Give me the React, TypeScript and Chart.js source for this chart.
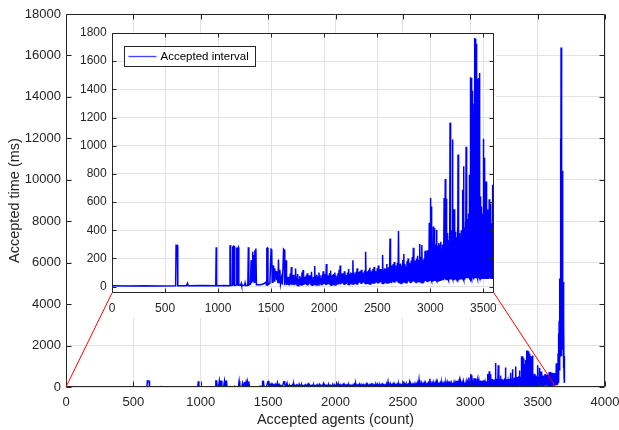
import React, { useEffect, useRef } from 'react';
import { Chart, registerables } from 'chart.js';

Chart.register(...registerables);

// ---------- text & style constants ----------
const FONT_FAMILY = '"Liberation Sans", Arial, Helvetica, sans-serif';
const AXIS_COLOR = '#262626';
const GRID_COLOR = '#e2e2e2';
const LINE_COLOR = '#0000ff';
const LINK_COLOR = '#ff0000';

const seriesLabel = 'Accepted interval';
const xTitle = 'Accepted agents (count)';
const yTitle = 'Accepted time (ms)';

// ---------- axes ----------
const mainXRange = [0, 4000];
const mainYRange = [0, 18000];
const mainXTicks = [0, 500, 1000, 1500, 2000, 2500, 3000, 3500, 4000];
const mainYTicks = [0, 2000, 4000, 6000, 8000, 10000, 12000, 14000, 16000, 18000];

const insetXRange = [0, 3600];
const insetYRange = [-45, 1800];
const insetXTicks = [0, 500, 1000, 1500, 2000, 2500, 3000, 3500];
const insetYTicks = [0, 200, 400, 600, 800, 1000, 1200, 1400, 1600, 1800];

// agent counts on the main x-axis where the red zoom lines land
const zoomSpan = [0, 3635];

// ---------- data: [accepted agents, accepted time (ms)] ----------
const quietPhase: [number, number][] = [
  [0, 6], [150, 5], [300, 7], [450, 5], [600, 6], [604, 292], [610, 290], [616, 292], [620, 6],
  [700, 7], [712, 24], [718, 6], [850, 8], [978, 6], [982, 280], [986, 7], [1060, 8],
  [1108, 6], [1112, 288], [1118, 290], [1122, 8], [1132, 10], [1138, 286], [1143, 15],
  [1148, 286], [1153, 284], [1157, 10], [1170, 12], [1176, 278], [1181, 12], [1186, 270],
  [1191, 278], [1195, 10], [1214, 12], [1218, 22], [1222, 8], [1250, 12], [1254, 26],
  [1258, 9], [1280, 10], [1285, 280], [1290, 12], [1305, 18], [1311, 188], [1316, 24],
  [1321, 130], [1326, 247], [1331, 40], [1336, 224], [1341, 32], [1346, 259], [1351, 60],
  [1356, 270], [1361, 14], [1400, 14], [1430, 20], [1450, 32], [1455, 12], [1459, 272],
  [1465, 275], [1470, 14], [1488, 24], [1499, 266], [1505, 264], [1510, 32], [1516, 80],
  [1522, 152], [1528, 40], [1534, 130], [1540, 55], [1546, 110], [1552, 45], [1558, 95],
  [1564, 25], [1569, 193], [1574, 30], [1582, 120], [1588, 20], [1598, 65], [1606, 15],
  [1617, 266], [1622, 262], [1627, 18],
];

const risingPhase: [number, number][] = [
  [1630, 10], [1640, 188], [1645, 14], [1650, 60], [1655, 12], [1660, 70], [1665, 10], [1670, 55],
  [1675, 8], [1680, 95], [1685, 20], [1690, 140], [1695, 12], [1700, 65], [1705, 15], [1710, 85],
  [1715, 10], [1720, 60], [1725, 18], [1730, 129], [1735, 20], [1740, 70], [1745, 10], [1750, 90],
  [1755, 6], [1760, 55], [1765, 14], [1770, 75], [1775, 18], [1780, 65], [1785, 12], [1790, 100],
  [1795, 20], [1800, 118], [1805, 12], [1810, 70], [1815, 15], [1820, 65], [1825, 20], [1830, 80],
  [1835, 10], [1840, 95], [1845, 8], [1850, 60], [1855, 14], [1860, 80], [1865, 25], [1870, 70],
  [1875, 12], [1880, 105], [1885, 10], [1890, 65], [1895, 16], [1900, 70], [1905, 18], [1910, 147],
  [1915, 15], [1920, 75], [1925, 12], [1930, 85], [1935, 20], [1940, 70], [1945, 12], [1950, 100],
  [1955, 22], [1960, 80], [1965, 15], [1970, 60], [1975, 9], [1980, 85], [1985, 14], [1990, 110],
  [1995, 18], [2000, 75], [2005, 20], [2010, 90], [2015, 12], [2020, 160], [2025, 14], [2030, 80],
  [2035, 18], [2040, 75], [2045, 20], [2050, 95], [2055, 15], [2060, 115], [2065, 10], [2070, 80],
  [2075, 16], [2080, 85], [2085, 25], [2090, 90], [2095, 14], [2100, 100], [2105, 12], [2110, 80],
  [2115, 18], [2120, 70], [2125, 22], [2130, 95], [2135, 15], [2140, 120], [2145, 20], [2150, 150],
  [2155, 16], [2160, 85], [2165, 22], [2170, 95], [2175, 24], [2180, 90], [2185, 14], [2190, 110],
  [2195, 12], [2200, 85], [2205, 20], [2210, 80], [2215, 28], [2220, 100], [2225, 16], [2230, 125],
  [2235, 15], [2240, 90], [2245, 22], [2250, 100], [2255, 30], [2260, 95], [2265, 18], [2270, 188],
  [2275, 18], [2280, 100], [2285, 24], [2290, 90], [2295, 26], [2300, 105], [2305, 14], [2310, 130],
  [2315, 14], [2320, 95], [2325, 26], [2330, 105], [2335, 30], [2340, 110], [2345, 20], [2350, 120],
  [2355, 20], [2360, 100], [2365, 28], [2370, 95], [2375, 35], [2380, 115], [2385, 22], [2390, 247],
  [2395, 22], [2400, 105], [2405, 25], [2410, 110], [2415, 28], [2420, 120], [2425, 18], [2430, 135],
  [2435, 18], [2440, 105], [2445, 26], [2450, 115], [2455, 32], [2460, 125], [2465, 20], [2470, 140],
  [2475, 20], [2480, 110], [2485, 28], [2490, 100], [2495, 30], [2500, 130], [2505, 22], [2510, 150],
  [2515, 24], [2520, 120], [2525, 30], [2530, 125], [2535, 35], [2540, 115], [2545, 25], [2550, 224],
  [2555, 22], [2560, 120], [2565, 30], [2570, 130], [2575, 38], [2580, 125], [2585, 28], [2590, 160],
  [2595, 26], [2600, 130],
];

const busyPhase: [number, number][] = [
  [2605, 30], [2610, 140], [2615, 25], [2620, 342], [2625, 30], [2630, 150], [2635, 25], [2640, 140],
  [2645, 35], [2650, 160], [2655, 30], [2660, 175], [2665, 28], [2670, 140], [2675, 35], [2680, 150],
  [2685, 40], [2690, 170], [2695, 30], [2700, 395], [2705, 30], [2710, 160], [2715, 28], [2720, 165],
  [2725, 22], [2730, 150], [2735, 30], [2740, 190], [2745, 35], [2750, 231], [2755, 35], [2760, 160],
  [2765, 30], [2770, 145], [2775, 28], [2780, 180], [2785, 35], [2790, 200], [2795, 40], [2800, 160],
  [2805, 30], [2810, 170], [2815, 25], [2820, 185], [2825, 30], [2830, 210], [2835, 35], [2840, 276],
  [2845, 38], [2850, 180], [2855, 32], [2860, 185], [2865, 30], [2870, 200], [2875, 36], [2880, 220],
  [2885, 42], [2890, 190], [2895, 35], [2900, 302], [2905, 35], [2910, 210], [2915, 30], [2920, 295],
  [2925, 28], [2930, 190], [2935, 34], [2940, 200], [2945, 40], [2950, 254], [2955, 40], [2960, 220],
  [2965, 35], [2970, 259], [2975, 32], [2980, 230], [2985, 36], [2990, 454], [2995, 40], [2998, 250],
  [3001, 45], [3004, 630], [3007, 50], [3009, 569], [3012, 40], [3015, 260], [3018, 40], [3022, 300],
  [3025, 45], [3028, 426], [3031, 40], [3034, 280], [3037, 45], [3040, 414], [3043, 50], [3046, 300],
  [3049, 40], [3052, 280], [3055, 45], [3059, 402], [3062, 38], [3065, 290], [3068, 45], [3072, 250],
  [3075, 40], [3078, 310], [3081, 55], [3085, 290], [3088, 40], [3091, 300], [3094, 45], [3097, 319],
  [3100, 50], [3103, 270], [3106, 45], [3110, 230], [3113, 45], [3116, 300], [3120, 50], [3123, 250],
  [3126, 60], [3130, 629], [3133, 55], [3136, 350], [3138, 70], [3141, 764], [3144, 50], [3147, 380],
  [3150, 50], [3152, 623], [3155, 60], [3158, 360], [3161, 45], [3164, 380], [3167, 55], [3170, 330],
  [3173, 45], [3176, 320], [3179, 50], [3181, 360], [3184, 60], [3186, 1164], [3189, 50], [3191, 380],
  [3194, 55], [3197, 400], [3200, 50], [3203, 360], [3205, 70], [3208, 1045], [3211, 55], [3213, 340],
  [3216, 50], [3219, 380], [3222, 55], [3224, 550], [3227, 45], [3229, 330], [3232, 50], [3234, 390],
  [3237, 55], [3240, 360], [3243, 60], [3246, 350], [3249, 50], [3251, 330], [3254, 55], [3256, 420],
  [3259, 50], [3261, 938], [3264, 45], [3266, 350], [3269, 50], [3271, 380], [3274, 65], [3276, 340],
  [3279, 50], [3281, 270], [3284, 55], [3286, 360], [3289, 50], [3292, 400], [3295, 55], [3297, 380],
  [3300, 60], [3302, 688], [3305, 55], [3307, 400], [3310, 70], [3312, 854], [3315, 55], [3317, 380],
  [3320, 55], [3322, 420], [3325, 65], [3327, 400], [3330, 75], [3332, 460], [3335, 60], [3337, 993],
  [3340, 60], [3342, 440], [3345, 60], [3347, 480], [3350, 70], [3352, 450], [3355, 65], [3358, 520],
  [3361, 65], [3363, 470], [3365, 65], [3366, 795], [3369, 60], [3371, 480], [3374, 60], [3376, 500],
  [3377, 60], [3378, 1486], [3381, 50], [3383, 1200], [3386, 70], [3388, 1480], [3391, 60], [3393, 1390],
  [3396, 80], [3398, 1350], [3401, 60], [3403, 430], [3406, 50], [3408, 1100], [3411, 70], [3413, 1300],
  [3416, 60], [3418, 1764], [3420, 80], [3422, 1760], [3425, 60], [3427, 1500], [3430, 70], [3432, 1724],
  [3435, 60], [3437, 1620], [3440, 75], [3442, 1474], [3445, 60], [3447, 1300], [3450, 80], [3452, 1480],
  [3455, 60], [3457, 1250], [3460, 70], [3462, 1516], [3465, 60], [3467, 520], [3469, 55], [3471, 470],
  [3473, 70], [3476, 640], [3478, 60], [3480, 480], [3482, 60], [3484, 569], [3487, 80], [3489, 460],
  [3491, 60], [3494, 520], [3497, 60], [3499, 480], [3500, 60], [3502, 1050], [3504, 70], [3506, 460],
  [3508, 60], [3510, 480], [3512, 60], [3514, 914], [3516, 60], [3518, 450], [3520, 60], [3522, 500],
  [3524, 65], [3526, 747], [3528, 65], [3530, 440], [3532, 55], [3535, 460], [3537, 60], [3540, 550],
  [3542, 55], [3545, 430], [3547, 55], [3550, 480], [3552, 60], [3555, 621], [3557, 60], [3560, 450],
  [3562, 60], [3565, 500], [3567, 60], [3570, 590], [3572, 60], [3575, 440], [3577, 60], [3580, 450],
  [3583, 60], [3586, 723], [3588, 60], [3591, 480], [3593, 60], [3595, 520], [3597, 60], [3598, 720],
];

const overloadPhase: [number, number][] = [
  [3603, 60], [3607, 690], [3611, 50], [3615, 400], [3619, 70], [3623, 670], [3627, 60],
  [3631, 500], [3635, 80], [3639, 1140], [3643, 90], [3647, 700], [3650, 120], [3652, 1630],
  [3654, 200], [3656, 2580], [3658, 300], [3660, 3200], [3662, 5230], [3664, 800],
  [3666, 3560], [3668, 1500], [3670, 11970], [3672, 2000], [3674, 16380], [3676, 1500],
  [3678, 12000], [3680, 2500], [3682, 10440], [3684, 2000], [3686, 10440], [3688, 1800],
  [3690, 5070], [3692, 900], [3694, 3080], [3696, 500], [3698, 1500], [3700, 200],
];

const acceptedSeries = [...quietPhase, ...risingPhase, ...busyPhase, ...overloadPhase];

// ---------- helpers ----------
type Seg = [number, number, number, number];

const fmt = (v: any) => String(v);

function axisConfig(opts: {
  range: number[];
  ticks: number[];
  size: number;
  fontSize: number;
  padding: number;
  horizontal: boolean;
  title?: string;
  titlePadding?: any;
}) {
  const cfg: any = {
    type: 'linear',
    min: opts.range[0],
    max: opts.range[1],
    afterBuildTicks(axis: any) {
      axis.ticks = opts.ticks.map((value) => ({ value }));
    },
    afterFit(axis: any) {
      if (opts.horizontal) axis.height = opts.size;
      else axis.width = opts.size;
      axis.paddingLeft = 0;
      axis.paddingRight = 0;
      axis.paddingTop = 0;
      axis.paddingBottom = 0;
    },
    ticks: {
      callback: fmt,
      autoSkip: false,
      maxRotation: 0,
      minRotation: 0,
      padding: opts.padding,
      color: AXIS_COLOR,
      font: { family: FONT_FAMILY, size: opts.fontSize },
    },
    grid: { color: GRID_COLOR, lineWidth: 1, drawTicks: false },
    border: { display: false },
  };
  if (opts.title) {
    cfg.title = {
      display: true,
      text: opts.title,
      color: AXIS_COLOR,
      font: { family: FONT_FAMILY, size: 14.5 },
      padding: opts.titlePadding,
    };
  }
  return cfg;
}

function framePlugin(tickLen: number) {
  return {
    id: 'frame',
    afterDraw(chart: any) {
      const { ctx, chartArea: a, scales } = chart;
      const l = Math.round(a.left) + 0.5;
      const r = Math.round(a.right) - 0.5;
      const t = Math.round(a.top) + 0.5;
      const b = Math.round(a.bottom) - 0.5;
      ctx.save();
      ctx.strokeStyle = AXIS_COLOR;
      ctx.lineWidth = 1;
      ctx.beginPath();
      ctx.rect(l, t, r - l, b - t);
      for (const tk of scales.x.ticks) {
        const p = Math.round(scales.x.getPixelForValue(tk.value)) + 0.5;
        ctx.moveTo(p, b);
        ctx.lineTo(p, b - tickLen);
        ctx.moveTo(p, t);
        ctx.lineTo(p, t + tickLen);
      }
      for (const tk of scales.y.ticks) {
        const p = Math.round(scales.y.getPixelForValue(tk.value)) + 0.5;
        ctx.moveTo(l, p);
        ctx.lineTo(l + tickLen, p);
        ctx.moveTo(r, p);
        ctx.lineTo(r - tickLen, p);
      }
      ctx.stroke();
      ctx.restore();
    },
  };
}

const insetBackground = {
  id: 'insetBackground',
  beforeDraw(chart: any) {
    const { ctx, chartArea: a, width, height } = chart;
    ctx.save();
    ctx.fillStyle = '#ffffff';
    ctx.fillRect(0, 0, a.left, height);
    ctx.fillRect(a.left, a.top, width - a.left, height - a.top);
    ctx.restore();
  },
};

const insetLegend = {
  id: 'insetLegend',
  afterDraw(chart: any) {
    const { ctx, chartArea: a } = chart;
    const x = Math.round(a.left + 12) + 0.5;
    const y = Math.round(a.top + 13) + 0.5;
    const w = 131;
    const h = 20;
    ctx.save();
    ctx.fillStyle = '#ffffff';
    ctx.fillRect(x, y, w, h);
    ctx.strokeStyle = AXIS_COLOR;
    ctx.lineWidth = 1;
    ctx.strokeRect(x, y, w, h);
    ctx.strokeStyle = '#4444ff';
    ctx.lineWidth = 1.3;
    ctx.beginPath();
    ctx.moveTo(x + 4, y + h / 2);
    ctx.lineTo(x + 32, y + h / 2);
    ctx.stroke();
    ctx.fillStyle = '#000000';
    ctx.font = `11.5px ${FONT_FAMILY}`;
    ctx.textBaseline = 'middle';
    ctx.textAlign = 'left';
    ctx.fillText(chart.data.datasets[0].label, x + 36, y + h / 2 + 0.5);
    ctx.restore();
  },
};

export default function App() {
  const mainRef = useRef<HTMLCanvasElement | null>(null);
  const insetRef = useRef<HTMLCanvasElement | null>(null);

  useEffect(() => {
    const mainCanvas = mainRef.current!;
    const insetCanvas = insetRef.current!;
    const link: { main?: any; inset?: any } = {};

    const insetOffset = () => {
      const m = mainCanvas.getBoundingClientRect();
      const s = insetCanvas.getBoundingClientRect();
      return [s.left - m.left, s.top - m.top];
    };

    const segments = (): Seg[] => {
      const { main, inset } = link;
      if (!main || !inset) return [];
      const [dx, dy] = insetOffset();
      const mx = main.scales.x;
      const my = main.scales.y;
      const a = inset.chartArea;
      const y0 = my.getPixelForValue(0);
      return [
        [mx.getPixelForValue(zoomSpan[0]), y0, dx + a.left, dy + a.bottom],
        [mx.getPixelForValue(zoomSpan[1]), y0, dx + a.right, dy + a.bottom],
      ];
    };

    const connectors = (inInset: boolean) => ({
      id: 'connectors',
      afterDraw(chart: any) {
        const segs = segments();
        if (!segs.length) return;
        const [dx, dy] = inInset ? insetOffset() : [0, 0];
        const ctx = chart.ctx;
        ctx.save();
        ctx.translate(-dx, -dy);
        ctx.strokeStyle = LINK_COLOR;
        ctx.lineWidth = 1;
        ctx.beginPath();
        for (const [x1, y1, x2, y2] of segs) {
          ctx.moveTo(x1, y1);
          ctx.lineTo(x2, y2);
        }
        ctx.stroke();
        ctx.restore();
      },
    });

    const points = acceptedSeries.map(([x, y]) => ({ x, y }));
    const dataset = () => ({
      label: seriesLabel,
      data: points,
      borderColor: LINE_COLOR,
      backgroundColor: LINE_COLOR,
      borderWidth: 1.5,
      pointRadius: 0,
      tension: 0,
      fill: false,
    });

    const main = new Chart(mainCanvas, {
      type: 'line',
      data: { datasets: [dataset()] },
      options: {
        animation: false,
        responsive: false,
        events: [],
        layout: { padding: { left: 0, top: 14, right: 14, bottom: 0 } },
        plugins: { legend: { display: false }, tooltip: { enabled: false } },
        scales: {
          x: axisConfig({
            range: mainXRange, ticks: mainXTicks, size: 43, fontSize: 13, padding: 7.5,
            horizontal: true, title: xTitle, titlePadding: { top: 0, bottom: 1 },
          }),
          y: axisConfig({
            range: mainYRange, ticks: mainYTicks, size: 66, fontSize: 13, padding: 5,
            horizontal: false, title: yTitle, titlePadding: { top: 6, bottom: 0 },
          }),
        },
      } as any,
      plugins: [framePlugin(5), connectors(false)],
    });

    const inset = new Chart(insetCanvas, {
      type: 'line',
      data: { datasets: [dataset()] },
      options: {
        animation: false,
        responsive: false,
        events: [],
        layout: { padding: { left: 0, top: 8, right: 2, bottom: 0 } },
        plugins: { legend: { display: false }, tooltip: { enabled: false } },
        scales: {
          x: axisConfig({
            range: insetXRange, ticks: insetXTicks, size: 25, fontSize: 12, padding: 8.7,
            horizontal: true,
          }),
          y: axisConfig({
            range: insetYRange, ticks: insetYTicks, size: 40, fontSize: 12, padding: 5.3,
            horizontal: false,
          }),
        },
      } as any,
      plugins: [insetBackground, framePlugin(4), insetLegend, connectors(true)],
    });

    link.main = main;
    link.inset = inset;
    main.draw();
    inset.draw();

    return () => {
      main.destroy();
      inset.destroy();
    };
  }, []);

  return (
    <div
      style={{
        position: 'fixed',
        left: 0,
        top: 0,
        width: 619,
        height: 430,
        background: '#ffffff',
        overflow: 'hidden',
      }}
    >
      <canvas ref={mainRef} width={619} height={430} style={{ position: 'absolute', left: 0, top: 0 }} />
      <canvas ref={insetRef} width={424} height={293} style={{ position: 'absolute', left: 72, top: 25 }} />
    </div>
  );
}
